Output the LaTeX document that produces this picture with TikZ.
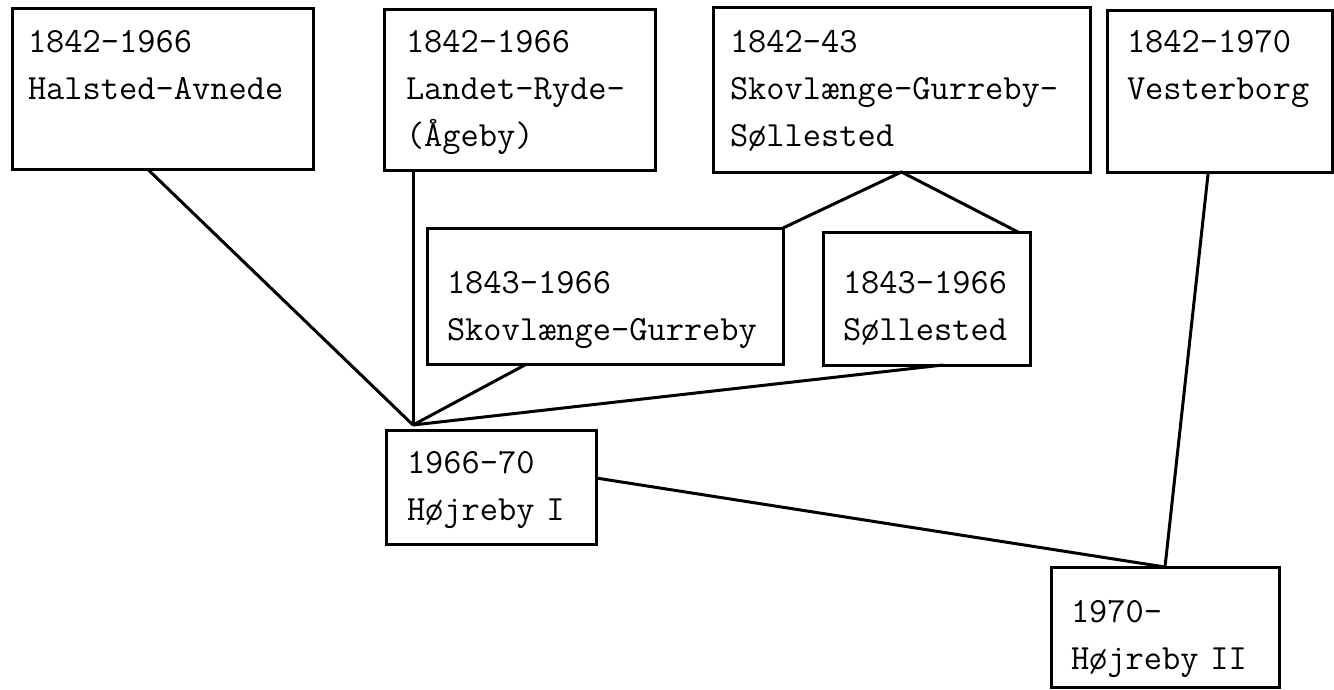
\documentclass[tikz,border=0pt]{standalone}
\usepackage{tikz}
\usetikzlibrary{calc}
\exhyphenpenalty=10000
\hyphenpenalty=10000

\begin{document}
\begin{tikzpicture}[x=1pt,y=1pt,
  box/.style={draw, black, line width=3pt, anchor=north west, outer sep=0pt,
    inner ysep=0pt, align=left, font=\ttfamily\fontsize{35.4}{47}\selectfont},
  link/.style={black, line width=3pt}]
\useasboundingbox (0,0) rectangle (1334,-689);
% parishes
\node [box, inner xsep=16pt, text width=269pt, text height=44pt, text depth=117pt] (halsted) at (12,-8) {1842-1966\\Halsted-Avnede};
\node [box, inner xsep=22pt, text width=227pt, text height=43pt, text depth=118pt] (landet) at (384,-9) {1842-1966\\Landet-Ryde-\\(Ågeby)};
\node [box, inner xsep=17pt, text width=343pt, text height=45pt, text depth=120pt] (skovsol) at (713,-7) {1842-43\\Skovlænge-Gurreby-\\Søllested};
\node [box, inner xsep=20pt, text width=185pt, text height=42pt, text depth=120pt] (vester) at (1107,-10) {1842-1970\\Vesterborg};
\node [box, inner xsep=20pt, text width=316pt, text height=65pt, text depth=71pt] (skov) at (427,-228) {1843-1966\\Skovlænge-Gurreby};
\node [box, inner xsep=20pt, text width=167pt, text height=61pt, text depth=72pt] (sol) at (823,-232) {1843-1966\\Søllested};
\node [box, inner xsep=21pt, text width=168pt, text height=43pt, text depth=71pt] (hoj1) at (386,-430) {1966-70\\Højreby I};
\node [box, inner xsep=20pt, text width=188pt, text height=55pt, text depth=65pt] (hoj2) at (1051,-567) {1970-\\Højreby II};

% links
\coordinate (join) at ($(hoj1.north west)+(27,5)$);
\draw [link] ($(halsted.south west)!0.45!(halsted.south east)$) -- (join);
\draw [link] (landet.south -| join) -- (join);
\draw [link] ($(skov.south west)!0.28!(skov.south east)$) -- (join);
\draw [link] ($(sol.south west)!0.58!(sol.south east)$) -- (join);
\draw [link] (skov.north east) -- (skovsol.south) -- ($(sol.north east)+(-12,0)$);
\draw [link] ($(hoj1.east)+(0,9)$) -- (hoj2.north);
\draw [link] ($(vester.south west)!0.45!(vester.south east)$) -- (hoj2.north);
\end{tikzpicture}
\end{document}
